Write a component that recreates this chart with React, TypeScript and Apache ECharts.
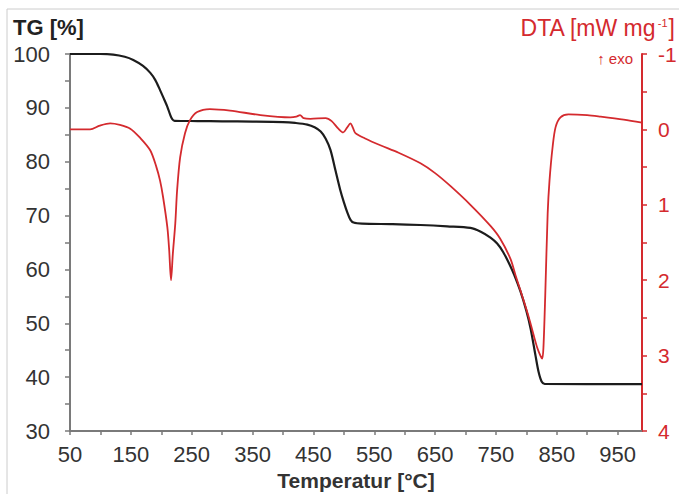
import React, { useEffect, useRef } from "react";
import * as echarts from "echarts";

const tgTemp = [50, 100, 121, 140, 154, 170, 182, 190, 198, 205, 210, 215, 218, 222, 260, 300, 350, 400, 420, 440, 452, 462, 470, 478, 486, 494, 500, 506, 511, 516, 530, 580, 626, 670, 708, 725, 741, 752, 762, 772, 780, 790, 800, 807, 815, 820, 825, 830, 990];
const tgValue = [100, 100, 99.9, 99.5, 98.9, 97.8, 96.5, 95.2, 93.3, 91.5, 90.2, 88.6, 87.9, 87.6, 87.55, 87.5, 87.45, 87.35, 87.2, 86.9, 86.4, 85.6, 84.3, 82.2, 78.5, 74.8, 72.5, 70.5, 69.2, 68.7, 68.5, 68.4, 68.25, 68.0, 67.7, 67.0, 65.9, 64.8, 63.2, 61.0, 59.0, 56.0, 52.3, 49.0, 44.0, 41.0, 39.2, 38.75, 38.7];

const dtaTemp = [50, 83, 99, 116, 132, 149, 165, 182, 192, 198, 203, 210, 213, 216, 219, 223, 226, 231, 239, 247, 259, 280, 313, 363, 412, 422, 428, 434, 445, 470, 480, 491, 499, 505, 511, 515, 519, 535, 560, 590, 626, 650, 675, 708, 741, 757, 774, 782, 790, 799, 806, 812, 818, 823, 826, 828, 831, 835, 838, 843, 848, 856, 869, 900, 922, 960, 990];
const dtaValue = [0, 0, -0.05, -0.08, -0.06, -0.01, 0.11, 0.28, 0.5, 0.68, 0.9, 1.3, 1.6, 2.0, 1.65, 1.25, 0.81, 0.37, 0.05, -0.12, -0.23, -0.27, -0.25, -0.19, -0.16, -0.17, -0.19, -0.15, -0.14, -0.15, -0.11, -0.01, 0.04, -0.02, -0.08, -0.02, 0.05, 0.12, 0.21, 0.31, 0.45, 0.58, 0.75, 1.0, 1.28, 1.45, 1.72, 1.93, 2.13, 2.36, 2.55, 2.73, 2.9, 3.0, 3.04, 2.9, 2.2, 1.11, 0.68, 0.24, -0.03, -0.16, -0.2, -0.19, -0.17, -0.13, -0.09];

const RED = "#d42a2e";
const GRAY_TEXT = "#333333";
const AXIS_GRAY = "#7a7a7a";
const FONT = "Liberation Sans, Arial, sans-serif";

export default function App() {
  const ref = useRef<HTMLDivElement>(null);
  useEffect(() => {
    document.body.style.margin = "0";
    const chart = echarts.init(ref.current!, undefined, { renderer: "svg" });
    const tgData = tgTemp.map((t, i) => [t, tgValue[i]]);
    const dtaData = dtaTemp.map((t, i) => [t, dtaValue[i]]);
    chart.setOption({
      animation: false,
      backgroundColor: "#ffffff",
      textStyle: { fontFamily: FONT },
      grid: { left: 70, right: 37, top: 54, bottom: 63, containLabel: false, outerBoundsMode: "none" },
      xAxis: {
        type: "value",
        min: 50,
        max: 990,
        interval: 50,
        name: "Temperatur [°C]",
        nameLocation: "middle",
        nameGap: 37,
        nameTextStyle: { fontSize: 21, fontWeight: "bold", color: GRAY_TEXT, fontFamily: FONT },
        axisLine: { show: true, onZero: false, lineStyle: { color: AXIS_GRAY, width: 2 } },
        axisTick: { show: true, length: 4, lineStyle: { color: AXIS_GRAY, width: 1.5 } },
        splitLine: { show: false },
        axisLabel: {
          fontSize: 22,
          color: GRAY_TEXT,
          margin: 12,
          fontFamily: FONT,
          showMaxLabel: false,
          formatter: (v: number) => ((v - 50) % 100 === 0 ? String(v) : ""),
        },
      },
      yAxis: [
        {
          type: "value",
          min: 30,
          max: 100,
          interval: 5,
          position: "left",
          axisLine: { show: true, onZero: false, lineStyle: { color: AXIS_GRAY, width: 2 } },
          axisTick: { show: true, length: 5, lineStyle: { color: AXIS_GRAY, width: 1.5 } },
          splitLine: { show: false },
          axisLabel: {
            fontSize: 22,
            color: GRAY_TEXT,
            margin: 20,
            fontFamily: FONT,
            formatter: (v: number) => (v % 10 === 0 ? String(v) : ""),
          },
        },
        {
          type: "value",
          min: -1,
          max: 4,
          interval: 0.5,
          inverse: true,
          position: "right",
          axisLine: { show: true, onZero: false, lineStyle: { color: RED, width: 2 } },
          axisTick: { show: true, length: 5, lineStyle: { color: RED, width: 1.5 } },
          splitLine: { show: false },
          axisLabel: {
            fontSize: 21,
            color: RED,
            margin: 16,
            fontFamily: FONT,
            formatter: (v: number) => (Number.isInteger(v) ? String(v) : ""),
          },
        },
      ],
      series: [
        {
          type: "line",
          name: "TG",
          yAxisIndex: 0,
          data: tgData,
          showSymbol: false,
          smooth: 0.3,
          lineStyle: { color: "#1c1c1c", width: 2.2 },
          z: 2,
        },
        {
          type: "line",
          name: "DTA",
          yAxisIndex: 1,
          data: dtaData,
          showSymbol: false,
          smooth: 0.3,
          lineStyle: { color: RED, width: 1.8 },
          z: 3,
        },
      ],
      graphic: [
        {
          type: "rect",
          shape: { x: 7, y: 9, width: 800, height: 600 },
          style: { fill: "none", stroke: "#cccccc", lineWidth: 1 },
          silent: true,
        },
        {
          type: "text",
          left: 13,
          top: 16,
          style: { text: "TG [%]", fontSize: 22, fontWeight: "bold", fill: "#222222", fontFamily: FONT },
        },
        {
          type: "text",
          right: 4,
          top: 16,
          style: {
            text: "{a|DTA [mW mg}{s|-1}{a|]}",
            fill: RED,
            fontFamily: FONT,
            rich: {
              a: { fontSize: 23, fill: RED, fontFamily: FONT },
              s: { fontSize: 11, fill: RED, fontFamily: FONT, padding: [0, 1, 10, 1] },
            },
          },
        },
        {
          type: "text",
          right: 46,
          top: 51,
          style: { text: "↑ exo", fontSize: 15, fill: RED, fontFamily: FONT },
        },
      ],
    });
    return () => chart.dispose();
  }, []);
  return <div ref={ref} style={{ width: 679, height: 494 }} />;
}
